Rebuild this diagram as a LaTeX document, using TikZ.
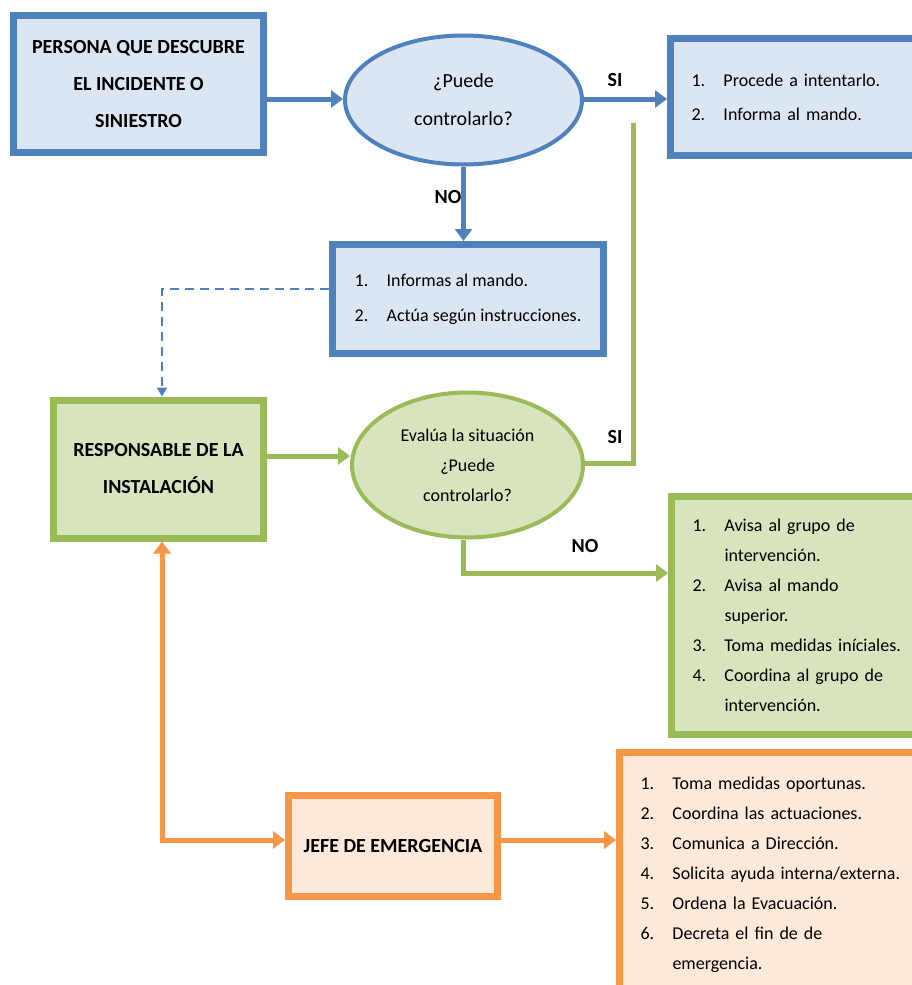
\documentclass[tikz,border=0pt]{standalone}
\usepackage{fontspec}
\setmainfont{Carlito}
\usetikzlibrary{shapes.geometric,arrows.meta}
\definecolor{bluedge}{HTML}{4F81BD}
\definecolor{bluefill}{HTML}{DCE6F2}
\definecolor{greenedge}{HTML}{9BBB59}
\definecolor{greenfill}{HTML}{D7E4BD}
\definecolor{orangedge}{HTML}{F79646}
\definecolor{orangefill}{HTML}{FDE9D9}
\newcommand{\itm}[1]{\makebox[32pt][l]{#1.}}
\newcommand{\cont}{\hspace*{32pt}}
\tikzset{
    headbox/.style={rectangle,line width=7pt,align=center,
        font=\bfseries\fontsize{20}{37}\selectfont},
    listbox/.style={rectangle,line width=7pt,align=left,inner xsep=21pt,
        font=\fontsize{18}{#1}\selectfont},
    oval/.style={ellipse,line width=4pt,inner sep=0pt,align=center},
    answer/.style={font=\bfseries\fontsize{20}{22}\selectfont},
    tip/.style={-{Triangle[length=12pt,width=17pt]}},
    blueline/.style={draw=bluedge,line width=5pt},
    greenline/.style={draw=greenedge,line width=5pt},
    orangeline/.style={draw=orangedge,line width=5pt}
}
\begin{document}
\begin{tikzpicture}[x=1pt,y=-1pt]
    \useasboundingbox (0,0) rectangle (912,985);
    \clip (0,0) rectangle (912,985);
    % first level
    \node[headbox,draw=bluedge,fill=bluefill,minimum width=250pt,minimum height=137pt]
        (persona) at (138.5,84) {PERSONA QUE DESCUBRE\\EL INCIDENTE O\\SINIESTRO};
    \node[oval,draw=bluedge,fill=bluefill,minimum width=237pt,minimum height=129pt,
        font=\fontsize{20}{38}\selectfont] (puede) at (463.5,100) {¿Puede\\controlarlo?};
    \node[listbox=34,draw=bluedge,fill=bluefill,minimum width=320pt,minimum height=117pt,
        text width=278pt] (procede) at (830.5,97) {\itm{1}Procede a intentarlo.\\\itm{2}Informa al mando.};
    \node[listbox=35,draw=bluedge,fill=bluefill,minimum width=271pt,minimum height=109pt]
        (informa) at (468,299) {\itm{1}Informas al mando.\\\itm{2}Actúa según instrucciones.};
    % second level
    \node[headbox,draw=greenedge,fill=greenfill,minimum width=210pt,minimum height=138pt]
        (responsable) at (158.5,469) {RESPONSABLE DE LA\\INSTALACIÓN};
    \node[oval,draw=greenedge,fill=greenfill,minimum width=231pt,minimum height=145pt,
        font=\fontsize{18}{30}\selectfont] (evalua) at (467.5,465) {Evalúa la situación\\¿Puede\\controlarlo?};
    \node[listbox=30,draw=greenedge,fill=greenfill,minimum width=320pt,minimum height=238pt,
        text width=278pt] (avisa) at (831.5,615.5)
        {\itm{1}Avisa al grupo de\\\cont intervención.\\\itm{2}Avisa al mando\\\cont superior.\\
         \itm{3}Toma medidas iníciales.\\\itm{4}Coordina al grupo de\\\cont intervención.};
    % third level
    \node[headbox,draw=orangedge,fill=orangefill,minimum width=209pt,minimum height=101pt]
        (jefe) at (393,846) {JEFE DE EMERGENCIA};
    \node[listbox=30,draw=orangedge,fill=orangefill,minimum width=320pt,minimum height=245pt,
        text width=278pt] (medidas) at (779.5,875)
        {\itm{1}Toma medidas oportunas.\\\itm{2}Coordina las actuaciones.\\\itm{3}Comunica a Dirección.\\
         \itm{4}Solicita ayuda interna/externa.\\\itm{5}Ordena la Evacuación.\\
         \itm{6}Decreta el fin de de\\\cont emergencia.};
    % answers
    \node[answer] (si1) at (615,80) {SI};
    \node[answer] (no1) at (448,197) {NO};
    \node[answer] (si2) at (615,437) {SI};
    \node[answer] (no2) at (585,546) {NO};
    % bends
    \coordinate (sitop) at (633,123);
    \coordinate (nobend) at (463,573);
    \coordinate (orbend) at (162,840);
    \coordinate (dashbend) at (162,289);
    % connectors
    \draw[blueline,tip] (persona.east |- 0,99) -- (puede.west |- 0,99);
    \draw[blueline,tip] (puede.east |- 0,99) -- (procede.west |- 0,99);
    \draw[blueline,tip] (puede.south) -- (puede.south |- informa.north);
    \draw[draw=bluedge,line width=2pt,dashed,dash pattern=on 9pt off 6pt,-{Triangle[length=9pt,width=10pt]}]
        (informa.west |- dashbend) -- (dashbend) -- (dashbend |- responsable.north);
    \draw[greenline,tip] (responsable.east |- 0,456) -- (evalua.west |- 0,456);
    \draw[greenline] (evalua.east |- 0,463) -| (sitop);
    \draw[greenline,tip] (nobend |- evalua.south) -- (nobend) -- (nobend -| avisa.west);
    \draw[orangeline,{Triangle[length=12pt,width=17pt]}-{Triangle[length=12pt,width=17pt]}]
        (orbend |- responsable.south) -- (orbend) -- (orbend -| jefe.west);
    \draw[orangeline,tip] (jefe.east |- orbend) -- (orbend -| medidas.west);
\end{tikzpicture}
\end{document}
